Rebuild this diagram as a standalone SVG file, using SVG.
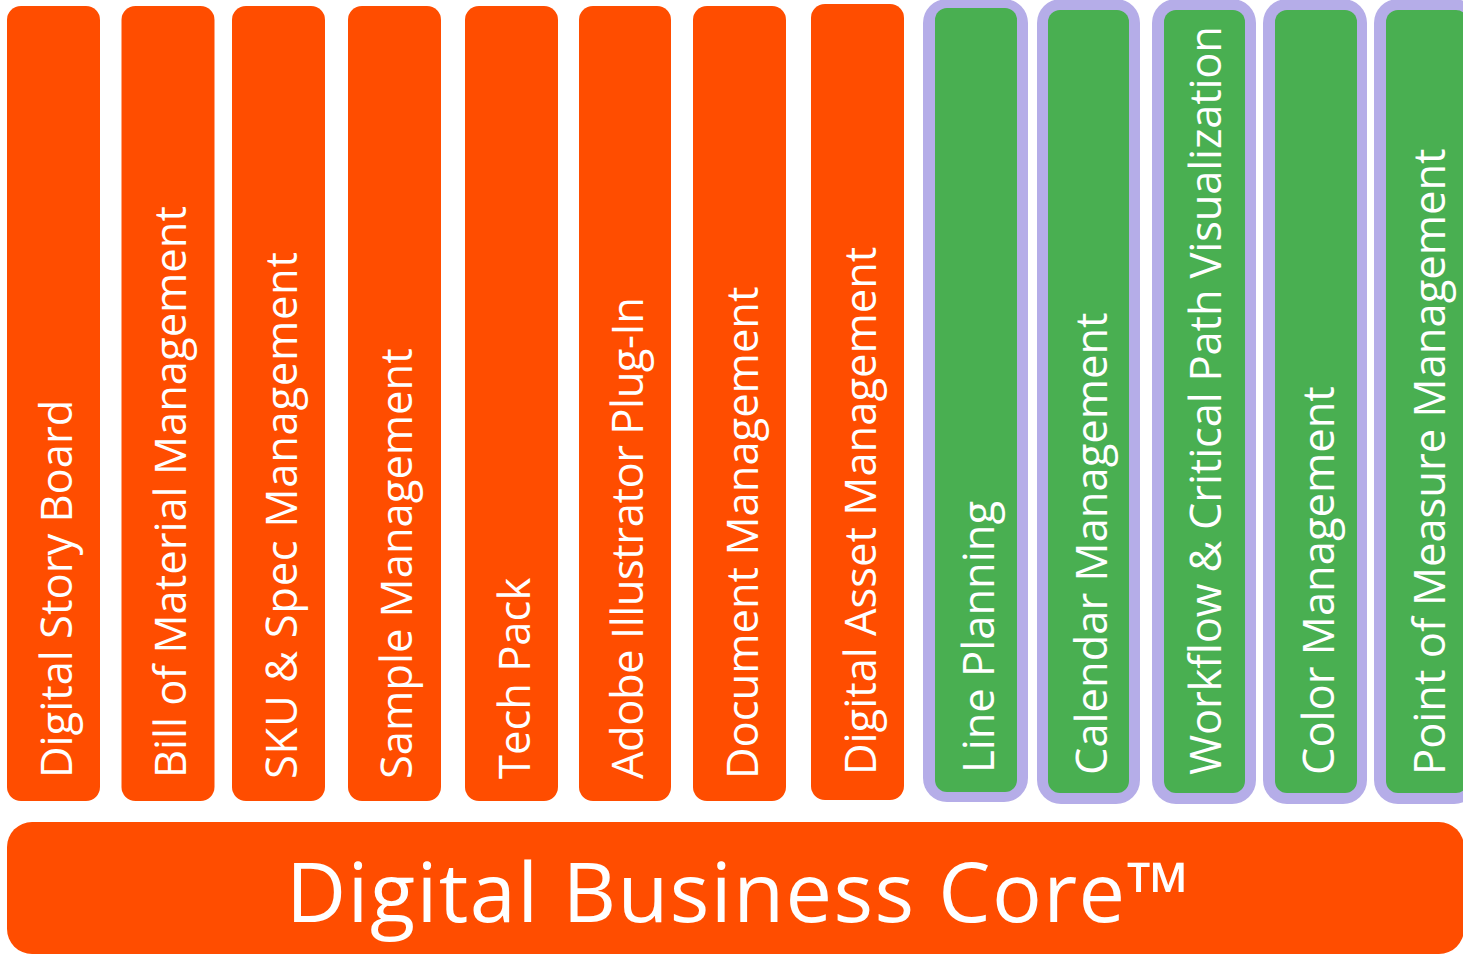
<svg xmlns="http://www.w3.org/2000/svg" width="1463" height="957" viewBox="0 0 1463 957">
<style>
.o{fill:#FF4D00}
.lav{fill:#B5ADE8}
.gr{fill:#49AF51}
.t{font-family:"Open Sans","Noto Sans",sans-serif;font-size:43.5px;fill:#FFFFFF}
.big{font-family:"Open Sans","Noto Sans",sans-serif;font-size:83px;fill:#FFFFFF}
</style>
<rect width="1463" height="957" fill="#FFFFFF"/>
<g id="bar-digital-story-board"><rect class="o" x="7" y="6" width="93" height="795" rx="14"/><text class="t" transform="translate(72,778) rotate(-90)">Digital Story Board</text></g>
<g id="bar-bill-of-material"><rect class="o" x="121.5" y="6" width="93" height="795" rx="14"/><text class="t" transform="translate(186,778) rotate(-90)">Bill of Material Management</text></g>
<g id="bar-sku-spec"><rect class="o" x="232" y="6" width="93" height="795" rx="14"/><text class="t" transform="translate(297,779) rotate(-90)" textLength="527" lengthAdjust="spacing">SKU &amp; Spec Management</text></g>
<g id="bar-sample"><rect class="o" x="348" y="6" width="93" height="795" rx="14"/><text class="t" transform="translate(412,779) rotate(-90)">Sample Management</text></g>
<g id="bar-tech-pack"><rect class="o" x="465" y="6" width="93" height="795" rx="14"/><text class="t" transform="translate(530,779) rotate(-90)">Tech Pack</text></g>
<g id="bar-adobe"><rect class="o" x="579" y="6" width="92" height="795" rx="14"/><text class="t" transform="translate(643,779) rotate(-90)" textLength="482" lengthAdjust="spacing">Adobe Illustrator Plug-In</text></g>
<g id="bar-document"><rect class="o" x="693" y="6" width="93" height="795" rx="14"/><text class="t" transform="translate(758,779) rotate(-90)">Document Management</text></g>
<g id="bar-digital-asset"><rect class="o" x="811" y="4" width="93" height="796" rx="14"/><text class="t" transform="translate(876,775) rotate(-90)">Digital Asset Management</text></g>
<g id="bar-line-planning"><rect class="lav" x="923" y="-1" width="105" height="803" rx="24"/><rect class="gr" x="935" y="8" width="82" height="784" rx="12"/><text class="t" transform="translate(994,773) rotate(-90)">Line Planning</text></g>
<g id="bar-calendar"><rect class="lav" x="1037" y="-1" width="103" height="805" rx="24"/><rect class="gr" x="1048" y="10" width="81" height="783" rx="12"/><text class="t" transform="translate(1107,775) rotate(-90)">Calendar Management</text></g>
<g id="bar-workflow"><rect class="lav" x="1152" y="-1" width="104" height="805" rx="24"/><rect class="gr" x="1164" y="10" width="81" height="783" rx="12"/><text class="t" transform="translate(1221,775) rotate(-90)" textLength="749" lengthAdjust="spacing">Workflow &amp; Critical Path Visualization</text></g>
<g id="bar-color"><rect class="lav" x="1263" y="-1" width="104" height="805" rx="24"/><rect class="gr" x="1275" y="10" width="82" height="783" rx="12"/><text class="t" transform="translate(1334,775) rotate(-90)">Color Management</text></g>
<g id="bar-pom"><rect class="lav" x="1374" y="-1" width="104" height="805" rx="24"/><rect class="gr" x="1386" y="10" width="82" height="783" rx="12"/><text class="t" transform="translate(1445,775) rotate(-90)">Point of Measure Management</text></g>
<g id="base-digital-business-core"><rect class="o" x="7" y="822" width="1457" height="132" rx="25"/><text class="big" x="286" y="922" textLength="904" lengthAdjust="spacing">Digital Business Core™</text></g>
<g id="connectors"></g>
</svg>
